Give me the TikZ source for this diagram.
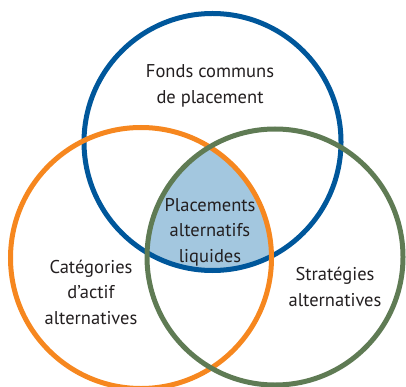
\documentclass[tikz,border=0pt]{standalone}
\usepackage{fontspec}
\setmainfont{PT Sans}
\definecolor{cblue}{HTML}{00579B}
\definecolor{corange}{HTML}{F6871F}
\definecolor{cgreen}{HTML}{5F7B54}
\definecolor{cfill}{HTML}{A3C7DF}
\definecolor{ctext}{HTML}{231F20}
\begin{document}
\begin{tikzpicture}[x=1pt,y=-1pt,
  ring/.style={line width=5pt},
  lbl/.style={align=center,text=ctext,inner sep=0pt,font=\fontsize{18.5}{25.5}\selectfont}]
\useasboundingbox (0,0) rectangle (406,387);
\coordinate (cb) at (212.5,142);
\coordinate (co) at (141,258);
\coordinate (cg) at (275,257);
\begin{scope}
  \clip (cb) circle (128.5);
  \clip (co) circle (130.5);
  \fill[cfill] (cg) circle (128);
\end{scope}
\draw[ring,cblue] (cb) circle (128.5);
\draw[ring,corange] (co) circle (130.5);
\draw[ring,cgreen] (cg) circle (128);
\node[lbl] (top) at (210,86) {Fonds communs\\de placement};
\node[lbl] (mid) at (210,232) {Placements\\alternatifs\\liquides};
\node[lbl] (left) at (91,292) {Catégories\\d’actif\\alternatives};
\node[lbl] (right) at (335,287) {Stratégies\\alternatives};
\end{tikzpicture}
\end{document}
